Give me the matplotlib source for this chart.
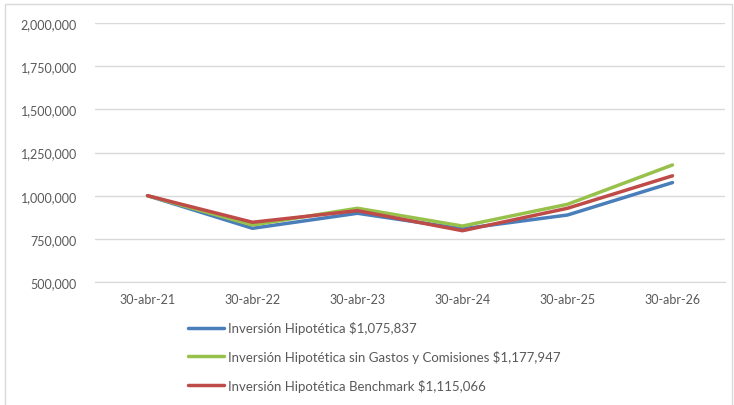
import matplotlib.pyplot as plt
from matplotlib.patches import Rectangle
from matplotlib.ticker import FuncFormatter

plt.rcParams['font.family'] = ['Lato', 'DejaVu Sans']

fechas = ['30-abr-21', '30-abr-22', '30-abr-23', '30-abr-24', '30-abr-25', '30-abr-26']
inversion = [1000000, 811000, 898000, 808000, 888000, 1075837]
sin_gastos = [1000000, 830000, 927000, 824000, 950000, 1177947]
benchmark = [1000000, 846000, 913000, 797000, 927000, 1115066]

etiquetas = ['Inversión Hipotética $1,075,837',
             'Inversión Hipotética sin Gastos y Comisiones $1,177,947',
             'Inversión Hipotética Benchmark $1,115,066']
colores = ['#4a7ebb', '#98c14b', '#be4b48']

fig = plt.figure(figsize=(7.34, 4.06), dpi=100)
ax = fig.add_axes([95 / 734, 1 - 283 / 406, 630 / 734, 259 / 406])

x = range(len(fechas))
for serie, color, etiqueta in zip([inversion, sin_gastos, benchmark], colores, etiquetas):
    ax.plot(x, serie, color=color, linewidth=2.5, label=etiqueta, solid_capstyle='round')

ax.set_xlim(-0.5, len(fechas) - 0.5)
ax.set_ylim(500000, 2000000)
ax.set_yticks(range(500000, 2000001, 250000))
ax.yaxis.set_major_formatter(FuncFormatter(lambda v, p: f"{int(v):,}"))
ax.set_xticks(list(x))
ax.set_xticklabels(fechas)
ax.grid(axis='y', color='#d9d9d9', linewidth=1)
ax.set_axisbelow(True)
for s in ['top', 'right', 'left']:
    ax.spines[s].set_visible(False)
ax.spines['bottom'].set_color('#d9d9d9')
ax.tick_params(length=0, labelsize=9, colors='#595959', pad=8)
ax.tick_params(axis='y', pad=13)

leg = fig.legend(loc='upper left', bbox_to_anchor=(183 / 734, 1 - 317 / 406), frameon=False,
                 fontsize=9.5, handlelength=2.7, handletextpad=0.3, labelspacing=1.2,
                 borderaxespad=0)
for t in leg.get_texts():
    t.set_color('#595959')

fig.patches.append(Rectangle((5 / 734, -0.01), 727 / 734, 1 - 5 / 406 + 0.01,
                             transform=fig.transFigure, fill=False,
                             edgecolor='#d9d9d9', linewidth=1))

fig.savefig('out.png', dpi=100)
